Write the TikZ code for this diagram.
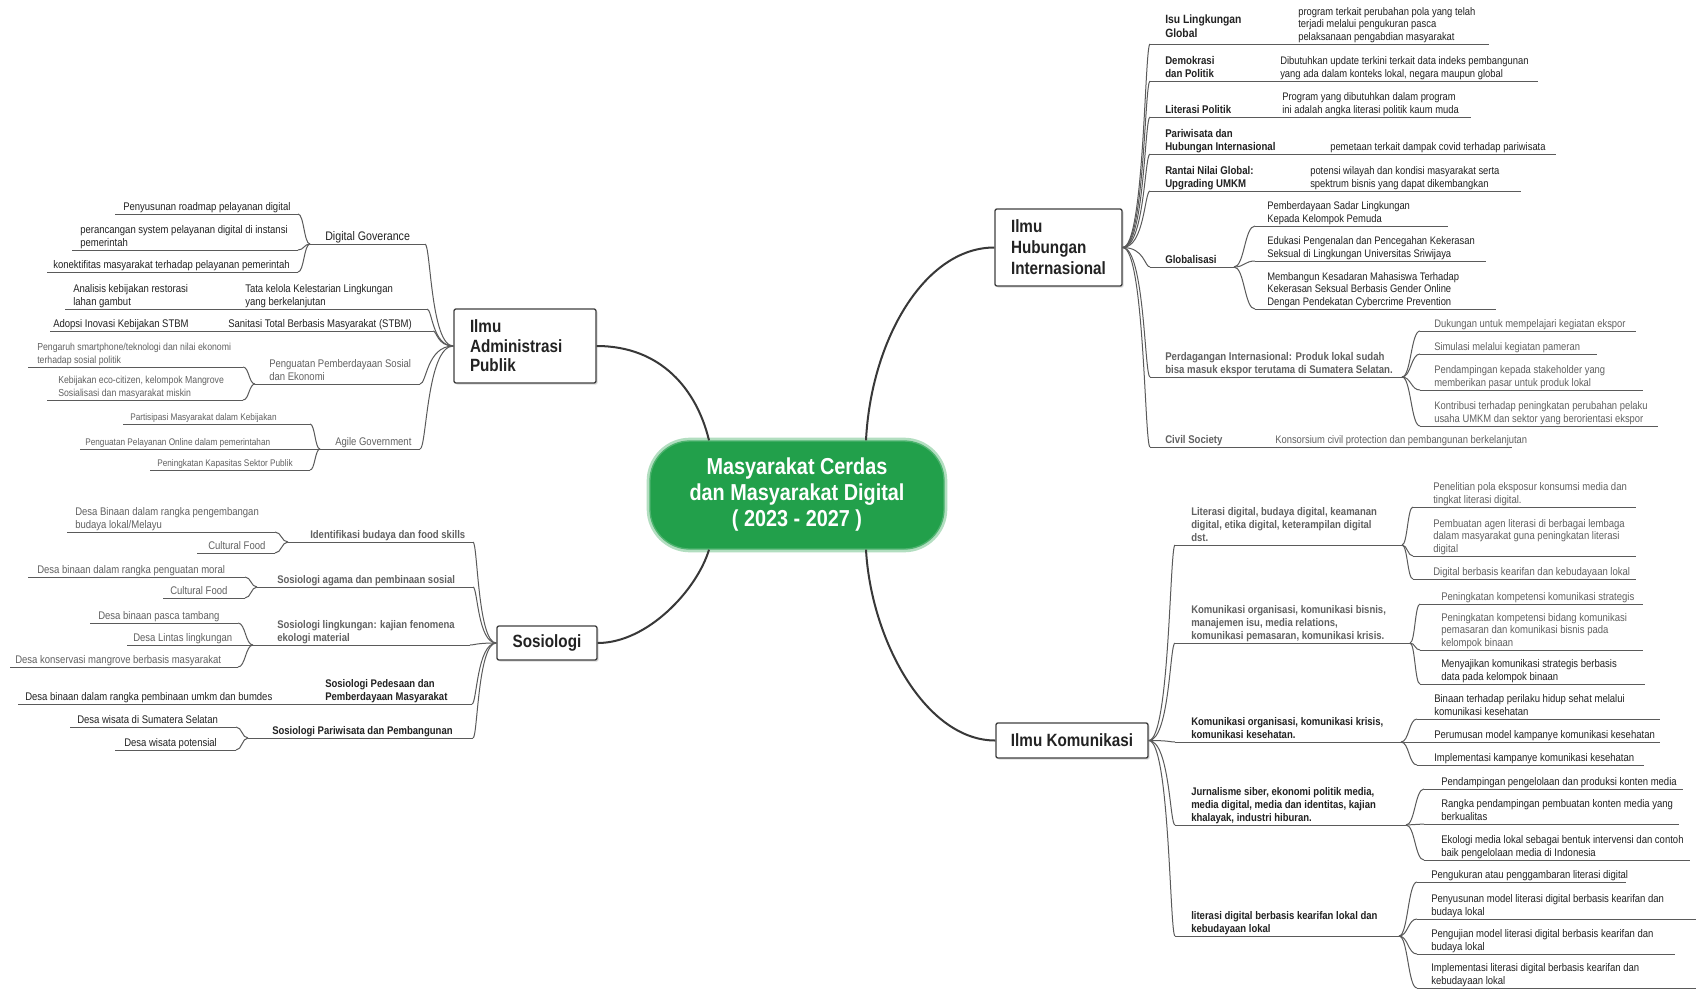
\documentclass[tikz,border=0pt]{standalone}
\usepackage{fontspec}
\setmainfont{Liberation Sans}
\newfontfamily\mm[FakeStretch=0.86]{Liberation Sans}
\usetikzlibrary{calc,shadows}

\definecolor{lnc}{HTML}{5A5A5A}
\definecolor{txt}{HTML}{222222}
\definecolor{ctrgreen}{HTML}{22A04B}

% underline of a topic: coordinates (<name>s) and (<name>e)
\newcommand\ulin[4]{\coordinate (#1s) at (#2,#4); \coordinate (#1e) at (#3,#4); \draw[ln] (#1s) -- (#1e);}
% branch curve, bending close to the child end
\newcommand\crv[2]{\draw[ln] (#1) .. controls ($(#1)!0.8!(#2|-#1)$) and ($(#2)!0.2!(#1|-#2)$) .. (#2);}
% short fan from a topic to its leaves
\newcommand\fan[2]{\draw[ln] (#1) .. controls ($(#1)!0.5!(#2|-#1)$) and ($(#2)!0.5!(#1|-#2)$) .. (#2);}

\tikzset{
  ln/.style={draw=lnc, line width=0.75pt},
  mainln/.style={draw=black!78, line width=1.5pt},
  txtbase/.style={inner sep=0pt, align=left, anchor=south west, yshift=-0.4pt, text=txt, execute at end node=\strut},
  leaf/.style={txtbase, font=\mm\fontsize{8.3}{9.4}\selectfont},
  sleaf/.style={txtbase, font=\mm\fontsize{7.2}{9.4}\selectfont},
  hleaf/.style={txtbase, font=\mm\fontsize{8.2}{9.4}\selectfont},
  bsub/.style={txtbase, font=\mm\bfseries\fontsize{8.3}{9.6}\selectfont},
  hsub/.style={txtbase, font=\mm\bfseries\fontsize{8.4}{9.6}\selectfont},
  fz/.style={text=black!62},
  box/.style={draw=black!75, line width=1pt, fill=white, rounded corners=1.5pt,
    drop shadow={shadow xshift=1.2pt, shadow yshift=-1.2pt, opacity=0.3},
    font=\mm\bfseries\fontsize{13.3}{15.8}\selectfont, text=txt},
  ctrnode/.style={fill=ctrgreen, rounded corners=30pt, text=white, align=center,
    preaction={draw=ctrgreen!35, line width=5pt},
    draw=ctrgreen!80, line width=1pt,
    font=\mm\bfseries\fontsize{17.3}{19.5}\selectfont,
    minimum width=220.5pt, minimum height=81pt}
}

\begin{document}
\begin{tikzpicture}[x=0.75pt,y=-0.75pt]
\fill[white] (0,0) rectangle (1696,990);
\useasboundingbox (0,0) rectangle (1696,990);

% ---------- central topic and main branches ----------
\node[ctrnode] (ctr) at (797,495) {Masyarakat Cerdas\\dan Masyarakat Digital\\( 2023 - 2027 )};
\coordinate (ctl) at ($(ctr.north)+(-88,0)$);
\coordinate (ctrt) at ($(ctr.north)+(69,0)$);
\coordinate (cbl) at ($(ctr.south)+(-88,0)$);
\coordinate (cbr) at ($(ctr.south)+(69,0)$);

\node[box, align=left, text width=71.25pt, inner xsep=12pt, minimum height=57.8pt] (hi) at (1058.5,247.5) {Ilmu\\Hubungan\\Internasional};
\node[box, align=left, text width=82.5pt, inner xsep=12pt, minimum height=55.5pt, font=\mm\bfseries\fontsize{13.3}{14.6}\selectfont] (adm) at (525,346) {Ilmu\\Administrasi\\Publik};
\node[box, minimum width=75pt, minimum height=25.5pt] (sos) at (547,643) {Sosiologi};
\node[box, minimum width=114pt, minimum height=26.3pt] (kom) at (1072,740.5) {Ilmu Komunikasi};

\draw[mainln] (adm.east) .. controls +(65,0) and +(-12,-50) .. (ctl);
\draw[mainln] (hi.west) .. controls +(-70,0) and +(5,-100) .. (ctrt);
\draw[mainln] (sos.east) .. controls +(50,0) and +(-12,40) .. (cbl);
\draw[mainln] (kom.west) .. controls +(-70,0) and +(5,90) .. (cbr);

% ---------- Ilmu Hubungan Internasional ----------
\ulin{isu}{1150}{1489}{44}
\node[hsub, font=\mm\bfseries\fontsize{9}{10}\selectfont] (isut) at (1165,41) {Isu Lingkungan\\Global};
\node[hleaf] (isul) at (1298,44) {program terkait perubahan pola yang telah\\terjadi melalui pengukuran pasca\\pelaksanaan pengabdian masyarakat};

\ulin{dem}{1150}{1538}{81}
\node[hsub] (demt) at (1165,81) {Demokrasi\\dan Politik};
\node[hleaf] (deml) at (1280,81) {Dibutuhkan update terkini terkait data indeks pembangunan\\yang ada dalam konteks lokal, negara maupun global};

\ulin{lit}{1150}{1471}{117}
\node[hsub] (litt) at (1165,117) {Literasi Politik};
\node[hleaf] (litl) at (1282,117) {Program yang dibutuhkan dalam program\\ini adalah angka literasi politik kaum muda};

\ulin{par}{1150}{1556}{154}
\node[hsub] (part) at (1165,154) {Pariwisata dan\\Hubungan Internasional};
\node[hleaf] (parl) at (1330,154) {pemetaan terkait dampak covid terhadap pariwisata};

\ulin{ran}{1150}{1521}{191}
\node[hsub] (rant) at (1165,191) {Rantai Nilai Global:\\Upgrading UMKM};
\node[hleaf] (ranl) at (1310,191) {potensi wilayah dan kondisi masyarakat serta\\spektrum bisnis yang dapat dikembangkan};

\ulin{glo}{1150}{1234}{267}
\node[hsub] (glot) at (1165,267) {Globalisasi};
\ulin{gla}{1255}{1448}{226}
\node[hleaf] (glat) at (1267,226) {Pemberdayaan Sadar Lingkungan\\Kepada Kelompok Pemuda};
\ulin{glb}{1255}{1486}{261}
\node[hleaf] (glbt) at (1267,261) {Edukasi Pengenalan dan Pencegahan Kekerasan\\Seksual di Lingkungan Universitas Sriwijaya};
\ulin{glc}{1255}{1496}{309}
\node[hleaf] (glct) at (1267,309) {Membangun Kesadaran Mahasiswa Terhadap\\Kekerasan Seksual Berbasis Gender Online\\Dengan Pendekatan Cybercrime Prevention};
\fan{gloe}{glas} \fan{gloe}{glbs} \fan{gloe}{glcs}

\ulin{per}{1150}{1402}{377}
\node[hsub, fz] (pert) at (1165,377) {Perdagangan Internasional: Produk lokal sudah\\bisa masuk ekspor terutama di Sumatera Selatan.};
\ulin{pea}{1420}{1636}{331}
\node[hleaf, fz] (peat) at (1434,331) {Dukungan untuk mempelajari kegiatan ekspor};
\ulin{peb}{1420}{1597}{354}
\node[hleaf, fz] (pebt) at (1434,354) {Simulasi melalui kegiatan pameran};
\ulin{pec}{1420}{1643}{390}
\node[hleaf, fz] (pect) at (1434,390) {Pendampingan kepada stakeholder yang\\memberikan pasar untuk produk lokal};
\ulin{ped}{1420}{1658}{426}
\node[hleaf, fz] (pedt) at (1434,426) {Kontribusi terhadap peningkatan perubahan pelaku\\usaha UMKM dan sektor yang berorientasi ekspor};
\fan{pere}{peas} \fan{pere}{pebs} \fan{pere}{pecs} \fan{pere}{peds}

\ulin{civ}{1150}{1512}{447}
\node[hsub, fz] (civt) at (1165,447) {Civil Society};
\node[hleaf, fz] (civl) at (1275,447) {Konsorsium civil protection dan pembangunan berkelanjutan};

\crv{hi.east}{isus} \crv{hi.east}{dems} \crv{hi.east}{lits} \crv{hi.east}{pars}
\crv{hi.east}{rans} \crv{hi.east}{glos} \crv{hi.east}{pers} \crv{hi.east}{civs}

% ---------- Ilmu Komunikasi ----------
\ulin{ka}{1175}{1402}{545}
\node[bsub, fz] (kat) at (1191,545) {Literasi digital, budaya digital, keamanan\\digital, etika digital, keterampilan digital\\dst.};
\ulin{kaa}{1413}{1636}{507}
\node[leaf, fz] (kaat) at (1433,507) {Penelitian pola eksposur konsumsi media dan\\tingkat literasi digital.};
\ulin{kab}{1413}{1636}{556}
\node[leaf, fz] (kabt) at (1433,556) {Pembuatan agen literasi di berbagai lembaga\\dalam masyarakat guna peningkatan literasi\\digital};
\ulin{kac}{1413}{1636}{579}
\node[leaf, fz] (kact) at (1433,579) {Digital berbasis kearifan dan kebudayaan lokal};
\fan{kae}{kaas} \fan{kae}{kabs} \fan{kae}{kacs}

\ulin{kb}{1175}{1410}{643}
\node[bsub, fz] (kbt) at (1191,643) {Komunikasi organisasi, komunikasi bisnis,\\manajemen isu, media relations,\\komunikasi pemasaran, komunikasi krisis.};
\ulin{kba}{1420}{1643}{604}
\node[leaf, fz] (kbat) at (1441,604) {Peningkatan kompetensi komunikasi strategis};
\ulin{kbb}{1420}{1643}{650}
\node[leaf, fz] (kbbt) at (1441,650) {Peningkatan kompetensi bidang komunikasi\\pemasaran dan komunikasi bisnis pada\\kelompok binaan};
\ulin{kbc}{1420}{1645}{684}
\node[leaf] (kbct) at (1441,684) {Menyajikan komunikasi strategis berbasis\\data pada kelompok binaan};
\fan{kbe}{kbas} \fan{kbe}{kbbs} \fan{kbe}{kbcs}

\ulin{kc}{1175}{1401}{742}
\node[bsub] (kct) at (1191,742) {Komunikasi organisasi, komunikasi krisis,\\komunikasi kesehatan.};
\ulin{kca}{1417}{1660}{719}
\node[leaf] (kcat) at (1434,719) {Binaan terhadap perilaku hidup sehat melalui\\komunikasi kesehatan};
\ulin{kcb}{1417}{1660}{742}
\node[leaf] (kcbt) at (1434,742) {Perumusan model kampanye komunikasi kesehatan};
\ulin{kcc}{1417}{1644}{765}
\node[leaf] (kcct) at (1434,765) {Implementasi kampanye komunikasi kesehatan};
\fan{kce}{kcas} \fan{kce}{kcbs} \fan{kce}{kccs}

\ulin{kd}{1175}{1406}{825}
\node[bsub] (kdt) at (1191,825) {Jurnalisme siber, ekonomi politik media,\\media digital, media dan identitas, kajian\\khalayak, industri hiburan.};
\ulin{kda}{1424}{1683}{789}
\node[leaf] (kdat) at (1441,789) {Pendampingan pengelolaan dan produksi konten media};
\ulin{kdb}{1424}{1679}{824}
\node[leaf] (kdbt) at (1441,824) {Rangka pendampingan pembuatan konten media yang\\berkualitas};
\ulin{kdc}{1424}{1690}{860}
\node[leaf] (kdct) at (1441,860) {Ekologi media lokal sebagai bentuk intervensi dan contoh\\baik pengelolaan media di Indonesia};
\fan{kde}{kdas} \fan{kde}{kdbs} \fan{kde}{kdcs}

\ulin{ke}{1175}{1399}{936}
\node[bsub] (ket) at (1191,936) {literasi digital berbasis kearifan lokal dan\\kebudayaan lokal};
\ulin{kea}{1417}{1626}{882}
\node[leaf] (keat) at (1431,882) {Pengukuran atau penggambaran literasi digital};
\ulin{keb}{1417}{1696}{919}
\node[leaf] (kebt) at (1431,919) {Penyusunan model literasi digital berbasis kearifan dan\\budaya lokal};
\ulin{kec}{1417}{1675}{954}
\node[leaf] (kect) at (1431,954) {Pengujian model literasi digital berbasis kearifan dan\\budaya lokal};
\ulin{ked}{1417}{1696}{988}
\node[leaf] (kedt) at (1431,988) {Implementasi literasi digital berbasis kearifan dan\\kebudayaan lokal};
\fan{kee}{keas} \fan{kee}{kebs} \fan{kee}{kecs} \fan{kee}{keds}

\crv{kom.east}{kas} \crv{kom.east}{kbs} \crv{kom.east}{kcs} \crv{kom.east}{kds} \crv{kom.east}{kes}

% ---------- Ilmu Administrasi Publik ----------
\ulin{ada}{310}{425}{244}
\node[leaf, font=\mm\fontsize{9.3}{10}\selectfont] (adat) at (325,244) {Digital Goverance};
\ulin{adaa}{115}{298}{214}
\node[leaf] (adaat) at (123,214) {Penyusunan roadmap pelayanan digital};
\ulin{adab}{72}{298}{250}
\node[leaf] (adabt) at (80,250) {perancangan system pelayanan digital di instansi\\pemerintah};
\ulin{adac}{47}{298}{272}
\node[leaf] (adact) at (53,272) {konektifitas masyarakat terhadap pelayanan pemerintah};
\fan{adas}{adaae} \fan{adas}{adabe} \fan{adas}{adace}

\ulin{adb}{65}{427}{309}
\node[leaf] (adbt) at (245,309) {Tata kelola Kelestarian Lingkungan\\yang berkelanjutan};
\node[leaf] (adbl) at (73,309) {Analisis kebijakan restorasi\\lahan gambut};

\ulin{adc}{50}{433}{331}
\node[leaf] (adct) at (228,331) {Sanitasi Total Berbasis Masyarakat (STBM)};
\node[leaf] (adcl) at (53,331) {Adopsi Inovasi Kebijakan STBM};

\ulin{add}{255}{420}{384}
\node[leaf, fz] (addt) at (269,384) {Penguatan Pemberdayaan Sosial\\dan Ekonomi};
\ulin{adda}{28}{243}{367}
\node[sleaf, fz, font=\mm\fontsize{7.6}{9.4}\selectfont] (addat) at (37,367) {Pengaruh smartphone/teknologi dan nilai ekonomi\\terhadap sosial politik};
\ulin{addb}{47}{243}{400}
\node[sleaf, fz, font=\mm\fontsize{7.6}{9.4}\selectfont] (addbt) at (58,400) {Kebijakan eco-citizen, kelompok Mangrove\\Sosialisasi dan masyarakat miskin};
\fan{adds}{addae} \fan{adds}{addbe}

\ulin{ade}{320}{420}{449}
\node[leaf, fz] (adet) at (335,449) {Agile Government};
\ulin{adea}{123}{310}{424}
\node[sleaf, fz] (adeat) at (130,424) {Partisipasi Masyarakat dalam Kebijakan};
\ulin{adeb}{80}{310}{449}
\node[sleaf, fz] (adebt) at (85,449) {Penguatan Pelayanan Online dalam pemerintahan};
\ulin{adec}{150}{310}{470}
\node[sleaf, fz] (adect) at (157,470) {Peningkatan Kapasitas Sektor Publik};
\fan{ades}{adeae} \fan{ades}{adebe} \fan{ades}{adece}

\crv{adm.west}{adae} \crv{adm.west}{adbe} \crv{adm.west}{adce} \crv{adm.west}{adde} \crv{adm.west}{adee}

% ---------- Sosiologi ----------
\ulin{soa}{288}{473}{542}
\node[bsub, fz] (soat) at (310,542) {Identifikasi budaya dan food skills};
\ulin{soaa}{67}{275}{532}
\node[leaf, fz] (soaat) at (75,532) {Desa Binaan dalam rangka pengembangan\\budaya lokal/Melayu};
\ulin{soab}{197}{275}{553}
\node[leaf, fz] (soabt) at (208,553) {Cultural Food};
\fan{soas}{soaae} \fan{soas}{soabe}

\ulin{sob}{257}{473}{587}
\node[bsub, fz] (sobt) at (277,587) {Sosiologi agama dan pembinaan sosial};
\ulin{soba}{28}{245}{577}
\node[leaf, fz] (sobat) at (37,577) {Desa binaan dalam rangka penguatan moral};
\ulin{sobb}{163}{245}{598}
\node[leaf, fz] (sobbt) at (170,598) {Cultural Food};
\fan{sobs}{sobae} \fan{sobs}{sobbe}

\ulin{soc}{253}{470}{645}
\node[bsub, fz] (soct) at (277,645) {Sosiologi lingkungan: kajian fenomena\\ekologi material};
\ulin{soca}{90}{238}{623}
\node[leaf, fz] (socat) at (98,623) {Desa binaan pasca tambang};
\ulin{socb}{127}{238}{645}
\node[leaf, fz] (socbt) at (133,645) {Desa Lintas lingkungan};
\ulin{socc}{10}{238}{667}
\node[leaf, fz] (socct) at (15,667) {Desa konservasi mangrove berbasis masyarakat};
\fan{socs}{socae} \fan{socs}{socbe} \fan{socs}{socce}

\ulin{sod}{18}{472}{704}
\node[bsub] (sodt) at (325,704) {Sosiologi Pedesaan dan\\Pemberdayaan Masyarakat};
\node[leaf] (sodl) at (25,704) {Desa binaan dalam rangka pembinaan umkm dan bumdes};

\ulin{soe}{248}{473}{738}
\node[bsub] (soet) at (272,738) {Sosiologi Pariwisata dan Pembangunan};
\ulin{soea}{70}{236}{727}
\node[leaf] (soeat) at (77,727) {Desa wisata di Sumatera Selatan};
\ulin{soeb}{115}{236}{750}
\node[leaf] (soebt) at (124,750) {Desa wisata potensial};
\fan{soes}{soeae} \fan{soes}{soebe}

\crv{sos.west}{soae} \crv{sos.west}{sobe} \crv{sos.west}{soce} \crv{sos.west}{sode} \crv{sos.west}{soee}

\end{tikzpicture}
\end{document}
